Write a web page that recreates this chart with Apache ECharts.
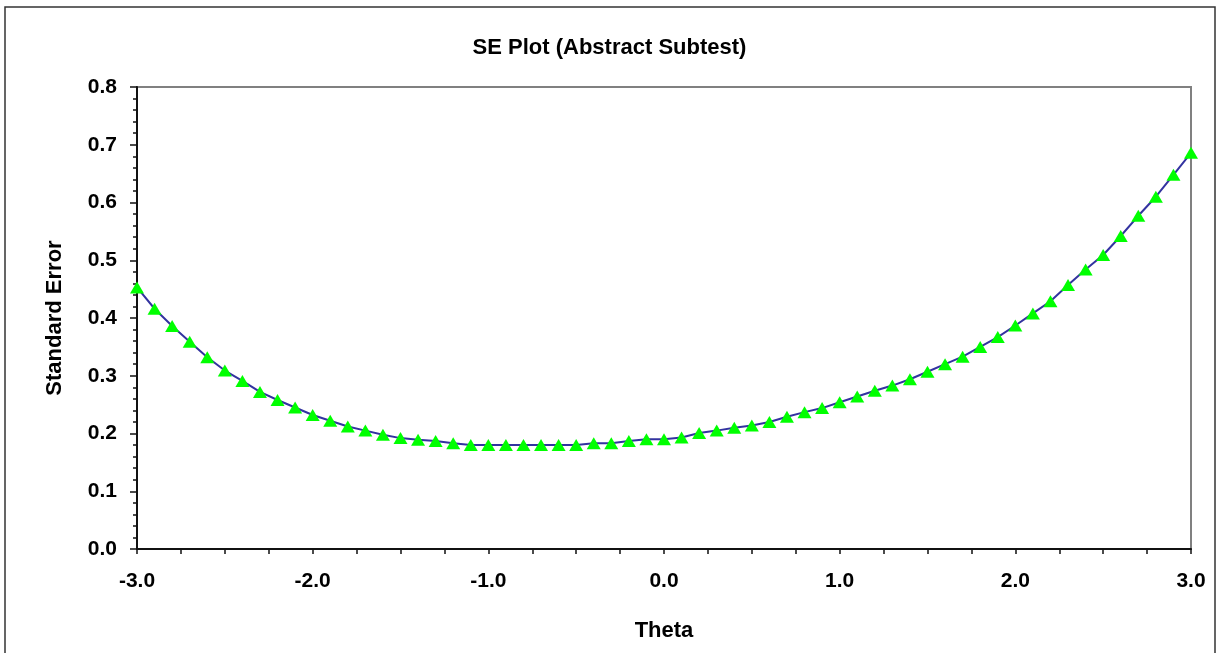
<!DOCTYPE html>
<html>
<head>
<meta charset="utf-8">
<script src="https://cdn.jsdelivr.net/npm/echarts@6/dist/echarts.min.js"></script>
<style>
html,body{margin:0;padding:0;background:#fff;}
#chart{width:1219px;height:653px;}
</style>
</head>
<body>
<div id="chart"></div>
<script>
// Data
const titleText = 'SE Plot (Abstract Subtest)';
const xAxisName = 'Theta';
const yAxisName = 'Standard Error';
const theta = [
  -3.0,-2.9,-2.8,-2.7,-2.6,-2.5,-2.4,-2.3,-2.2,-2.1,
  -2.0,-1.9,-1.8,-1.7,-1.6,-1.5,-1.4,-1.3,-1.2,-1.1,
  -1.0,-0.9,-0.8,-0.7,-0.6,-0.5,-0.4,-0.3,-0.2,-0.1,
  0.0,0.1,0.2,0.3,0.4,0.5,0.6,0.7,0.8,0.9,
  1.0,1.1,1.2,1.3,1.4,1.5,1.6,1.7,1.8,1.9,
  2.0,2.1,2.2,2.3,2.4,2.5,2.6,2.7,2.8,2.9,3.0
];
const se = [
  0.453,0.416,0.386,0.359,0.332,0.309,0.291,0.272,0.258,0.245,
  0.232,0.222,0.212,0.205,0.198,0.192,0.189,0.187,0.183,0.180,
  0.180,0.180,0.180,0.180,0.180,0.180,0.183,0.183,0.187,0.190,
  0.190,0.193,0.201,0.205,0.210,0.214,0.220,0.229,0.237,0.244,
  0.254,0.264,0.274,0.283,0.294,0.307,0.320,0.333,0.350,0.367,
  0.387,0.408,0.429,0.457,0.484,0.509,0.542,0.577,0.610,0.648,0.686
];

const points = theta.map((t, i) => [t, se[i]]);
const font = "'Liberation Sans', Arial, sans-serif";

const chart = echarts.init(document.getElementById('chart'), null, {renderer: 'canvas'});
chart.setOption({
  animation: false,
  backgroundColor: '#fff',
  graphic: [{
    type: 'rect',
    shape: {x: 5, y: 7, width: 1210, height: 700},
    style: {fill: 'none', stroke: '#333', lineWidth: 1.5},
    silent: true
  }],
  title: {
    text: titleText,
    left: 'center',
    top: 32,
    textStyle: {fontFamily: font, fontWeight: 'bold', fontSize: 22, color: '#000'}
  },
  grid: {
    left: 137, right: 28, top: 87, bottom: 104,
    show: true, borderColor: '#808080', borderWidth: 2, backgroundColor: '#fff'
  },
  xAxis: {
    type: 'value',
    min: -3, max: 3, interval: 1,
    name: xAxisName,
    nameLocation: 'middle',
    nameGap: 71,
    nameTextStyle: {fontFamily: font, fontWeight: 'bold', fontSize: 22, color: '#000'},
    axisLine: {show: true, onZero: false, lineStyle: {color: '#111', width: 2}},
    axisTick: {show: true, inside: false, length: 5, lineStyle: {color: '#111', width: 1.5}},
    minorTick: {show: true, splitNumber: 4, length: 5, lineStyle: {color: '#111', width: 1.5}},
    splitLine: {show: false},
    axisLabel: {
      margin: 22,
      fontFamily: font, fontWeight: 'bold', fontSize: 21, color: '#000',
      formatter: v => v.toFixed(1)
    }
  },
  yAxis: {
    type: 'value',
    min: 0, max: 0.8, interval: 0.1,
    name: yAxisName,
    nameLocation: 'middle',
    nameGap: 71,
    nameTextStyle: {fontFamily: font, fontWeight: 'bold', fontSize: 22, color: '#000'},
    axisLine: {show: true, onZero: false, lineStyle: {color: '#111', width: 2}},
    axisTick: {show: true, inside: false, length: 7, lineStyle: {color: '#111', width: 1.5}},
    minorTick: {show: true, splitNumber: 5, length: 4, lineStyle: {color: '#111', width: 1.5}},
    splitLine: {show: false},
    axisLabel: {
      margin: 20,
      fontFamily: font, fontWeight: 'bold', fontSize: 21, color: '#000',
      formatter: v => v.toFixed(1)
    }
  },
  series: [{
    type: 'line',
    data: points,
    smooth: false,
    clip: false,
    lineStyle: {color: '#3333a0', width: 2},
    symbol: 'triangle',
    symbolSize: [14, 12],
    itemStyle: {color: '#00ff00', borderWidth: 0},
    z: 3
  }]
});
</script>
</body>
</html>
